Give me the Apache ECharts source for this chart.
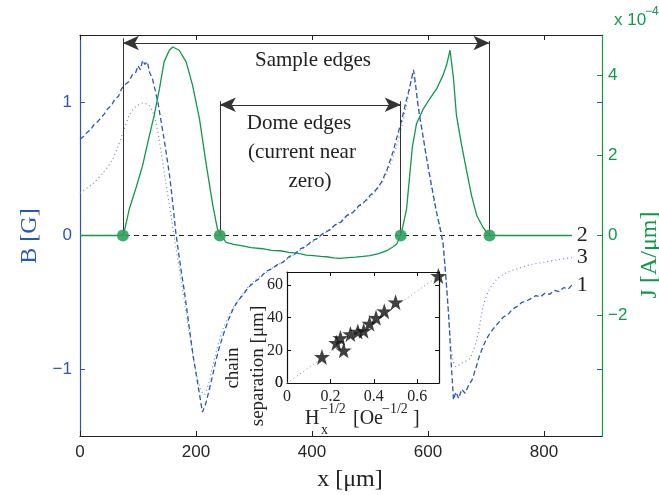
<!DOCTYPE html>
<html>
<head>
<meta charset="utf-8">
<script src="https://cdn.jsdelivr.net/npm/echarts@6/dist/echarts.min.js"></script>
<style>
  html, body { margin: 0; padding: 0; background: #fff; }
  #chart { width: 659px; height: 495px; }
</style>
</head>
<body>
<div id="chart"></div>
<script>
  // B field curve 1 (dashed, noisy)
  const curve1X = [0, 6, 12, 18, 24, 30, 36, 42, 48, 54, 60, 66, 72, 78, 84, 90, 96, 100, 104, 108, 112, 116, 120, 125, 130, 135, 140, 145, 150, 155, 160, 165, 170, 175, 180, 185, 190, 195, 200, 205, 211, 216, 222, 228, 234, 240, 248, 256, 264, 272, 280, 290, 300, 310, 320, 330, 340, 350, 360, 370, 380, 390, 400, 410, 420, 430, 440, 450, 460, 470, 480, 490, 500, 510, 520, 530, 540, 548, 555, 562, 568, 572, 575, 578, 582, 586, 590, 596, 602, 608, 614, 620, 626, 631, 636, 640, 644, 648, 653, 658, 664, 670, 676, 682, 688, 694, 700, 707, 714, 722, 730, 738, 746, 754, 762, 770, 778, 786, 794, 802, 810, 818, 826, 834, 842, 848];
  const curve1B = [0.72, 0.74, 0.77, 0.79, 0.83, 0.85, 0.88, 0.91, 0.95, 0.97, 1.02, 1.04, 1.10, 1.13, 1.15, 1.20, 1.22, 1.27, 1.24, 1.31, 1.28, 1.30, 1.22, 1.17, 1.08, 0.98, 0.85, 0.72, 0.58, 0.43, 0.24, 0.03, -0.13, -0.28, -0.42, -0.58, -0.74, -0.90, -1.03, -1.16, -1.32, -1.27, -1.17, -1.06, -0.94, -0.84, -0.73, -0.63, -0.55, -0.49, -0.45, -0.39, -0.35, -0.32, -0.27, -0.25, -0.22, -0.20, -0.16, -0.14, -0.10, -0.08, -0.04, -0.02, 0.02, 0.04, 0.08, 0.10, 0.15, 0.17, 0.22, 0.25, 0.30, 0.34, 0.40, 0.50, 0.63, 0.76, 0.87, 1.00, 1.10, 1.18, 1.24, 1.15, 1.00, 0.88, 0.78, 0.62, 0.47, 0.33, 0.19, 0.07, -0.06, -0.32, -0.62, -0.96, -1.23, -1.17, -1.22, -1.15, -1.18, -1.12, -1.08, -1.00, -0.91, -0.84, -0.78, -0.73, -0.69, -0.65, -0.61, -0.59, -0.55, -0.53, -0.50, -0.49, -0.47, -0.45, -0.46, -0.43, -0.44, -0.41, -0.42, -0.39, -0.40, -0.37];

  // B field curve 3 (dotted, smooth)
  const curve3X = [0, 20, 40, 55, 65, 75, 85, 95, 108, 120, 130, 140, 148, 157, 162, 175, 188, 200, 208, 214, 222, 232, 245, 260, 280, 300, 330, 360, 390, 420, 450, 480, 510, 530, 545, 555, 565, 573, 578, 585, 598, 612, 624, 632, 638, 643, 648, 660, 672, 684, 690, 695, 705, 718, 735, 753, 775, 800, 825, 848];
  const curve3B = [0.32, 0.38, 0.47, 0.56, 0.66, 0.78, 0.90, 0.96, 0.99, 0.97, 0.86, 0.62, 0.39, 0.15, 0, -0.35, -0.72, -1.02, -1.15, -1.19, -1.10, -0.92, -0.72, -0.57, -0.44, -0.34, -0.25, -0.17, -0.08, 0.01, 0.11, 0.21, 0.33, 0.48, 0.66, 0.82, 1.02, 1.19, 1.12, 0.92, 0.57, 0.22, 0, -0.38, -0.75, -0.93, -0.98, -0.95, -0.92, -0.78, -0.65, -0.53, -0.41, -0.33, -0.28, -0.25, -0.22, -0.20, -0.18, -0.165];

  // curve 2 (B = 0)
  const curve2X = [0, 848];
  const curve2B = [0, 0];

  // current density J, units of 1e-4 A/um
  const currentX = [0, 74, 76, 85, 96, 108, 117, 128, 137, 145, 154, 160, 171, 183, 194, 206, 217, 229, 237, 243, 252, 265, 280, 295, 315, 330, 345, 360, 375, 390, 402, 415, 425, 437, 448, 462, 475, 488, 500, 515, 529, 540, 546, 553, 557, 563, 569, 573, 580, 592, 603, 615, 626, 632, 638, 644, 649, 658, 667, 675, 684, 695, 706, 848];
  const currentJ = [0, 0, 0.08, 0.66, 1.16, 1.75, 2.33, 3.0, 3.66, 4.33, 4.62, 4.70, 4.62, 4.33, 3.75, 2.91, 1.83, 0.75, 0.16, 0, -0.17, -0.22, -0.26, -0.30, -0.33, -0.37, -0.38, -0.42, -0.44, -0.49, -0.50, -0.52, -0.53, -0.56, -0.57, -0.55, -0.54, -0.52, -0.50, -0.45, -0.38, -0.28, -0.21, 0, 0.25, 0.66, 1.58, 2.2, 2.78, 3.16, 3.41, 3.66, 4.0, 4.25, 4.62, 3.91, 3.0, 2.25, 1.58, 1.0, 0.5, 0.2, 0, 0];

  const sampleEdges = [74, 706];
  const domeEdges = [241, 553];

  // inset: chain separation vs Hx^-1/2
  const insetH = [0.161, 0.227, 0.246, 0.261, 0.292, 0.326, 0.353, 0.38, 0.41, 0.448, 0.50, 0.697];
  const insetSep = [16, 24.6, 27.6, 20, 30, 31.5, 32, 36.4, 40, 44, 49.5, 65.6];
  const fitH = [0, 0.7];
  const fitSep = [0, 65.8];

  const xTicks = [0, 200, 400, 600, 800];
  const bTicks = [-1, 0, 1];
  const jTicks = [-2, 0, 2, 4];
  const insetXTicks = [0, 0.2, 0.4, 0.6];
  const insetYTicks = [0, 20, 40, 60];

  const blue = '#2c56b4';
  const green = '#11984a';
  const serif = "'Liberation Serif', 'DejaVu Serif', serif";
  const sans = "'Liberation Sans', Arial, sans-serif";
  const star = 'path://M50,0 L61.8,35.1 L97.6,34.5 L69,56 L79.4,90.5 L50,69.7 L20.6,90.5 L31,56 L2.4,34.5 L38.2,35.1 Z';

  const zip = (xs, ys) => xs.map((x, i) => [x, ys[i]]);
  const minus = v => v < 0 ? '\u2212' + Math.abs(v) : String(v);

  const chart = echarts.init(document.getElementById('chart'));

  const endLabel = (txt) => ({
    show: true, formatter: txt, distance: 5,
    color: '#222', fontSize: 22, fontFamily: serif
  });

  chart.setOption({
    animation: false,
    grid: [
      {left: 80, top: 35, width: 522, height: 401},
      {left: 287, top: 272, width: 152, height: 111, show: true,
       backgroundColor: '#fff', borderWidth: 0, z: 5}
    ],
    xAxis: [
      {
        gridIndex: 0, type: 'value', min: 0, max: 900,
        axisLine: {onZero: false, lineStyle: {color: '#222', width: 1.2}},
        axisTick: {inside: true, length: 5, customValues: xTicks, lineStyle: {color: '#222'}},
        axisLabel: {customValues: xTicks, color: '#262626', fontSize: 17, fontFamily: sans, margin: 8},
        splitLine: {show: false}
      },
      {
        gridIndex: 0, type: 'value', position: 'top', min: 0, max: 900,
        axisLine: {onZero: false, lineStyle: {color: '#222', width: 1.2}},
        axisTick: {inside: true, length: 5, customValues: xTicks, lineStyle: {color: '#222'}},
        axisLabel: {show: false},
        splitLine: {show: false}
      },
      {
        gridIndex: 1, type: 'value', min: 0, max: 0.7, z: 6,
        axisLine: {onZero: false, lineStyle: {color: '#111', width: 1.2}},
        axisTick: {inside: true, length: 4, customValues: insetXTicks, lineStyle: {color: '#111'}},
        axisLabel: {customValues: insetXTicks, color: '#222', fontSize: 16, fontFamily: serif, margin: 6},
        splitLine: {show: false}
      },
      {
        gridIndex: 1, type: 'value', position: 'top', min: 0, max: 0.7, z: 6,
        axisLine: {onZero: false, lineStyle: {color: '#111', width: 1.2}},
        axisTick: {inside: true, length: 4, customValues: insetXTicks, lineStyle: {color: '#111'}},
        axisLabel: {show: false},
        splitLine: {show: false}
      }
    ],
    yAxis: [
      {
        gridIndex: 0, type: 'value', min: -1.5, max: 1.5, position: 'left',
        axisLine: {onZero: false, lineStyle: {color: blue, width: 1.2}},
        axisTick: {inside: true, length: 5, customValues: bTicks, lineStyle: {color: blue}},
        axisLabel: {customValues: bTicks, color: blue, fontSize: 17, fontFamily: sans, margin: 8, formatter: minus},
        splitLine: {show: false}
      },
      {
        gridIndex: 0, type: 'value', min: -5, max: 5, position: 'right', offset: 0,
        axisLine: {onZero: false, lineStyle: {color: green, width: 1.2}},
        axisTick: {inside: true, length: 5, customValues: jTicks, lineStyle: {color: green}},
        axisLabel: {customValues: jTicks, color: green, fontSize: 17, fontFamily: sans, margin: 6, formatter: minus},
        splitLine: {show: false}
      },
      {
        gridIndex: 0, type: 'value', min: -1.5, max: 1.5, position: 'right', offset: 0,
        axisLine: {show: false, onZero: false},
        axisTick: {inside: true, length: 5, customValues: [-1, 1], lineStyle: {color: blue}},
        axisLabel: {show: false},
        splitLine: {show: false}
      },
      {
        gridIndex: 1, type: 'value', min: 0, max: 68, position: 'left', z: 6,
        axisLine: {onZero: false, lineStyle: {color: '#111', width: 1.2}},
        axisTick: {inside: true, length: 4, customValues: insetYTicks, lineStyle: {color: '#111'}},
        axisLabel: {customValues: insetYTicks, showMinLabel: true, color: '#222', fontSize: 16, fontFamily: serif, margin: 4},
        splitLine: {show: false}
      },
      {
        gridIndex: 1, type: 'value', min: 0, max: 68, position: 'right', z: 6,
        axisLine: {onZero: false, lineStyle: {color: '#111', width: 1.2}},
        axisTick: {inside: true, length: 4, customValues: insetYTicks, lineStyle: {color: '#111'}},
        axisLabel: {show: false},
        splitLine: {show: false}
      }
    ],
    series: [
      {
        name: '2', type: 'line', xAxisIndex: 0, yAxisIndex: 0, data: zip(curve2X, curve2B),
        symbol: 'none', z: 2,
        lineStyle: {color: '#222', width: 1, type: [5, 4]},
        endLabel: endLabel('2')
      },
      {
        name: '3', type: 'line', xAxisIndex: 0, yAxisIndex: 0, data: zip(curve3X, curve3B),
        symbol: 'none', smooth: 0.3, z: 2,
        lineStyle: {color: '#6f8bd0', width: 1.2, type: [1, 3]},
        endLabel: endLabel('3')
      },
      {
        name: '1', type: 'line', xAxisIndex: 0, yAxisIndex: 0, data: zip(curve1X, curve1B),
        symbol: 'none', z: 3,
        lineStyle: {color: blue, width: 1.3, type: [5, 3]},
        endLabel: endLabel('1')
      },
      {
        name: 'J', type: 'line', xAxisIndex: 0, yAxisIndex: 1, data: zip(currentX, currentJ),
        symbol: 'none', z: 4,
        lineStyle: {color: green, width: 1.3}
      },
      {
        name: 'edges', type: 'scatter', xAxisIndex: 0, yAxisIndex: 1,
        data: sampleEdges.concat(domeEdges).map(x => [x, 0]),
        symbolSize: 12, z: 5,
        itemStyle: {color: '#2fa35d', opacity: 0.9},
        markLine: {
          silent: true, symbol: 'none', label: {show: false},
          lineStyle: {color: '#333', width: 1, type: 'solid'},
          data: [
            [{coord: [sampleEdges[0], 0]}, {coord: [sampleEdges[0], 4.92]}],
            [{coord: [sampleEdges[1], 0]}, {coord: [sampleEdges[1], 4.85]}],
            [{coord: [domeEdges[0], 0]}, {coord: [domeEdges[0], 3.35]}],
            [{coord: [domeEdges[1], 0]}, {coord: [domeEdges[1], 3.35]}],
            [{coord: [sampleEdges[0], 4.8], symbol: 'arrow', symbolSize: [11, 16]},
             {coord: [sampleEdges[1], 4.8], symbol: 'arrow', symbolSize: [11, 16]}],
            [{coord: [domeEdges[0], 3.26], symbol: 'arrow', symbolSize: [11, 16]},
             {coord: [domeEdges[1], 3.26], symbol: 'arrow', symbolSize: [11, 16]}]
          ]
        }
      },
      {
        name: 'fit', type: 'line', xAxisIndex: 2, yAxisIndex: 3, data: zip(fitH, fitSep),
        symbol: 'none', z: 6,
        lineStyle: {color: '#888', width: 1, type: [1, 3]}
      },
      {
        name: 'chains', type: 'scatter', xAxisIndex: 2, yAxisIndex: 3, data: zip(insetH, insetSep),
        symbol: star, symbolSize: 16, z: 7,
        itemStyle: {color: '#111'}
      }
    ],
    graphic: [
      {type: 'text', x: 313, y: 60, style: {text: 'Sample edges', font: '21px ' + serif, fill: '#222', textAlign: 'center', textVerticalAlign: 'middle'}},
      {type: 'text', x: 299, y: 123, style: {text: 'Dome edges', font: '21px ' + serif, fill: '#222', textAlign: 'center', textVerticalAlign: 'middle'}},
      {type: 'text', x: 302, y: 152, style: {text: '(current near', font: '21px ' + serif, fill: '#222', textAlign: 'center', textVerticalAlign: 'middle'}},
      {type: 'text', x: 310, y: 181, style: {text: 'zero)', font: '21px ' + serif, fill: '#222', textAlign: 'center', textVerticalAlign: 'middle'}},
      {type: 'text', x: 350, y: 480, style: {text: 'x [\u03bcm]', font: '24px ' + serif, fill: '#222', textAlign: 'center', textVerticalAlign: 'middle'}},
      {type: 'text', x: 30, y: 236, rotation: Math.PI / 2, style: {text: 'B [G]', font: '24px ' + serif, fill: blue, textAlign: 'center', textVerticalAlign: 'middle'}},
      {type: 'text', x: 650, y: 255, rotation: Math.PI / 2, style: {text: 'J [A/\u03bcm]', font: '24px ' + serif, fill: green, textAlign: 'center', textVerticalAlign: 'middle'}},
      {type: 'text', x: 614, y: 20, style: {text: 'x 10', font: '17px ' + sans, fill: green, textAlign: 'left', textVerticalAlign: 'middle'}},
      {type: 'text', x: 645, y: 12, style: {text: '\u22124', font: '12px ' + sans, fill: green, textAlign: 'left', textVerticalAlign: 'middle'}},
      {type: 'text', x: 283, y: 383, z: 10, style: {text: '0', font: '16px ' + serif, fill: '#222', textAlign: 'right', textVerticalAlign: 'middle'}},
      {type: 'text', x: 233, y: 368, rotation: Math.PI / 2, style: {text: 'chain', font: '19px ' + serif, fill: '#222', textAlign: 'center', textVerticalAlign: 'middle'}},
      {type: 'text', x: 258, y: 366, rotation: Math.PI / 2, style: {text: 'separation [\u03bcm]', font: '19px ' + serif, fill: '#222', textAlign: 'center', textVerticalAlign: 'middle'}},
      {type: 'text', x: 305, y: 419, style: {text: 'H', font: '20px ' + serif, fill: '#222', textAlign: 'left', textVerticalAlign: 'middle'}},
      {type: 'text', x: 320, y: 409, style: {text: '\u22121/2', font: '14px ' + serif, fill: '#222', textAlign: 'left', textVerticalAlign: 'middle'}},
      {type: 'text', x: 321, y: 430, style: {text: 'x', font: '14px ' + serif, fill: '#222', textAlign: 'left', textVerticalAlign: 'middle'}},
      {type: 'text', x: 353, y: 419, style: {text: '[Oe', font: '20px ' + serif, fill: '#222', textAlign: 'left', textVerticalAlign: 'middle'}},
      {type: 'text', x: 382, y: 409, style: {text: '\u22121/2', font: '14px ' + serif, fill: '#222', textAlign: 'left', textVerticalAlign: 'middle'}},
      {type: 'text', x: 413, y: 419, style: {text: ']', font: '20px ' + serif, fill: '#222', textAlign: 'left', textVerticalAlign: 'middle'}}
    ]
  });
</script>
</body>
</html>
